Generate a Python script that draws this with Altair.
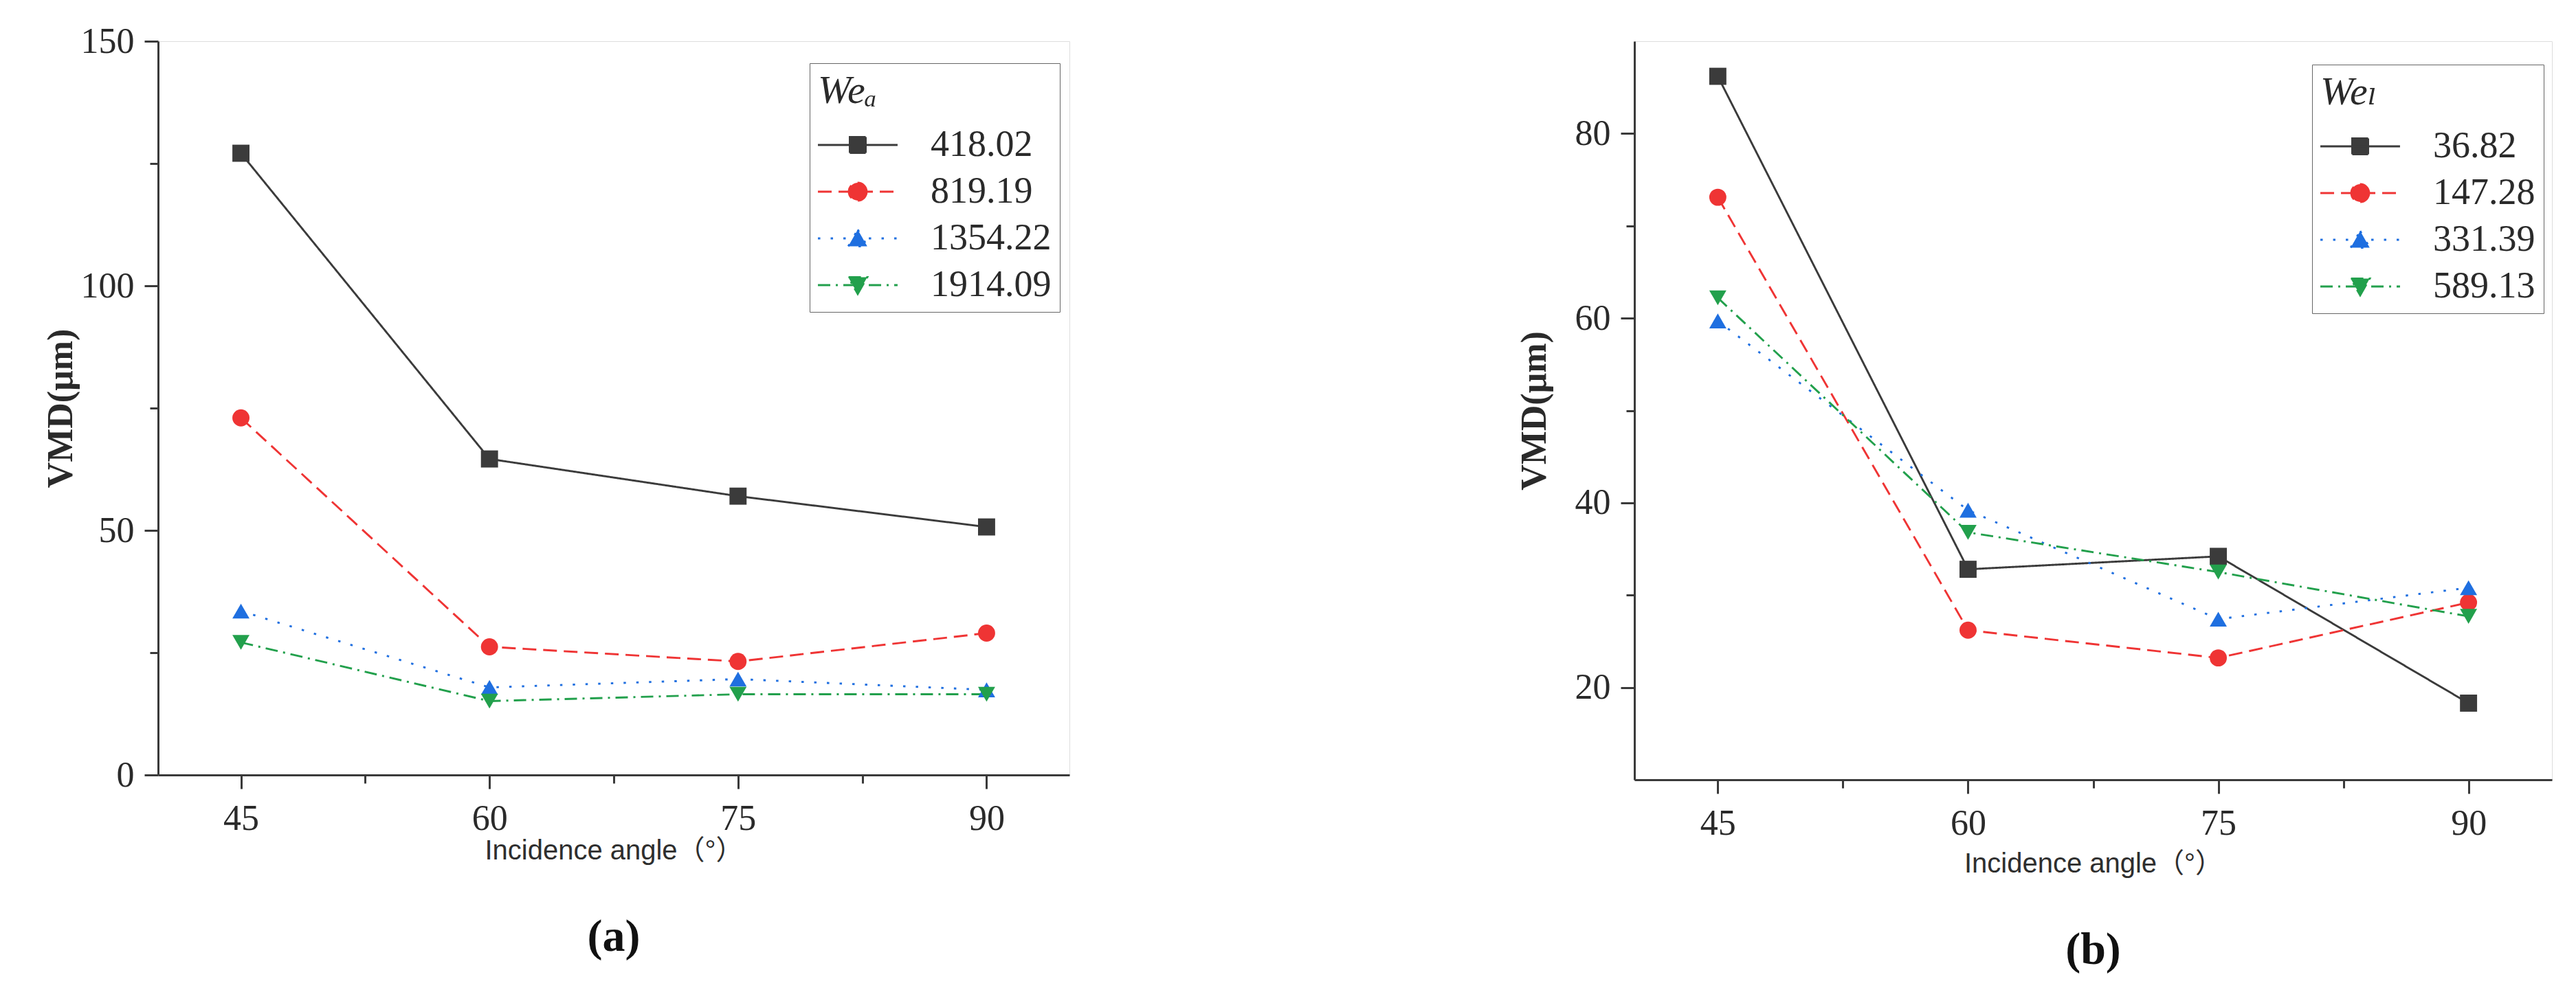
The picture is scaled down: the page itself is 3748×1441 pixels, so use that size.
import altair as alt
import pandas as pd

# ---------------- data ----------------
angles = [45, 60, 75, 90]

# Panel (a): We_a series
a_names = ["418.02", "819.19", "1354.22", "1914.09"]
a_418_02 = [127.1, 64.6, 57.0, 50.7]
a_819_19 = [73.0, 26.2, 23.2, 29.0]
a_1354_22 = [33.5, 17.9, 19.6, 17.4]
a_1914_09 = [27.1, 15.1, 16.5, 16.5]

# Panel (b): We_l series
b_names = ["36.82", "147.28", "331.39", "589.13"]
b_36_82 = [86.2, 32.8, 34.2, 18.3]
b_147_28 = [73.1, 26.2, 23.2, 29.2]
b_331_39 = [59.7, 39.2, 27.4, 30.8]
b_589_13 = [62.2, 36.8, 32.5, 27.7]

x_ticks = [45, 60, 75, 90]
x_minor = [52.5, 67.5, 82.5]
a_yticks = [0, 50, 100, 150]
a_yminor = [25, 75, 125]
b_yticks = [20, 40, 60, 80]
b_yminor = [30, 50, 70]

# ---------------- styles ----------------
colors = ["#3b3b3b", "#ef3434", "#1f6fe0", "#22a04c"]
dashes = [[1, 0], [20, 10], [3.5, 15], [18, 8, 3, 8]]
point_shapes = ["square", "circle", "triangle-up", "triangle-down"]
LINE = "M-2.52,0H2.52"
legend_shapes = [
    LINE + "M-0.5,-0.5H0.5V0.5H-0.5Z",
    LINE + "M0.56,0A0.56,0.56 0 1,1 -0.56,0A0.56,0.56 0 1,1 0.56,0Z",
    LINE + "M0,-0.55L0.6,0.5H-0.6Z",
    LINE + "M0,0.55L0.6,-0.5H-0.6Z",
]

SERIF = "Liberation Serif, DejaVu Serif, Noto Sans, DejaVu Sans"
SANS = "Liberation Sans, Noto Sans CJK SC, sans-serif"
INK = "#2a2a2a"
FRAME = "#3a3a3a"


def long_frame(names, series):
    rows = []
    for name, vals in zip(names, series):
        for ang, v in zip(angles, vals):
            rows.append({"angle": ang, "vmd": v, "series": name})
    return pd.DataFrame(rows)


def panel(df, names, legend_title, ydomain, yticks, yminor, width, height,
          lx, ly, ytitle_x, xtitle_y, label):
    xscale = alt.Scale(domain=[40, 95], nice=False, zero=False)
    yscale = alt.Scale(domain=ydomain, nice=False, zero=False)

    main_x = alt.Axis(values=x_ticks, title="Incidence angle（°）", grid=False,
                      labelFlush=False, tickSize=20, tickWidth=3, tickColor=FRAME,
                      domainColor=FRAME, domainWidth=3, labelFont=SERIF,
                      labelFontSize=52, labelColor=INK, labelPadding=18,
                      titleFont=SANS, titleFontSize=40, titleFontWeight="normal",
                      titleColor="#2e2e2e", titleX=width / 2, titleY=xtitle_y,
                      titleBaseline="middle", titleAlign="center", orient="bottom")
    main_y = alt.Axis(values=yticks, title="VMD(μm)", grid=False, labelFlush=False,
                      tickSize=20, tickWidth=3, tickColor=FRAME, domainColor=FRAME,
                      domainWidth=3, labelFont=SERIF, labelFontSize=52,
                      labelColor=INK, labelPadding=15, titleFont=SERIF,
                      titleFontSize=52, titleFontWeight="bold", titleColor=INK,
                      titleX=ytitle_x, titleY=height / 2, titleAngle=270,
                      titleBaseline="middle", titleAlign="center", orient="left")
    minor_x = alt.Axis(values=x_minor, title=None, labels=False, domain=False,
                       grid=False, tickSize=12, tickWidth=3, tickColor=FRAME,
                       orient="bottom")
    minor_y = alt.Axis(values=yminor, title=None, labels=False, domain=False,
                       grid=False, tickSize=12, tickWidth=3, tickColor=FRAME,
                       orient="left")

    base = alt.Chart(df)
    lines = base.mark_line(strokeWidth=2.9).encode(
        x=alt.X("angle:Q", scale=xscale, axis=main_x),
        y=alt.Y("vmd:Q", scale=yscale, axis=main_y),
        color=alt.Color("series:N", scale=alt.Scale(domain=names, range=colors), legend=None),
        strokeDash=alt.StrokeDash("series:N", scale=alt.Scale(domain=names, range=dashes), legend=None),
    )
    points = base.mark_point(filled=True, size=620, opacity=1).encode(
        x=alt.X("angle:Q", scale=xscale, axis=None),
        y=alt.Y("vmd:Q", scale=yscale, axis=None),
        color=alt.Color("series:N", scale=alt.Scale(domain=names, range=colors), legend=None),
        shape=alt.Shape("series:N", scale=alt.Scale(domain=names, range=point_shapes), legend=None),
    )
    leg = alt.Legend(title=legend_title, orient="none", legendX=lx, legendY=ly,
                     strokeColor="#666666", padding=12, titleFont=SERIF,
                     titleFontSize=58, titleFontStyle="italic", titleFontWeight="normal",
                     titleColor=INK, titlePadding=22, labelFont=SERIF, labelFontSize=54,
                     labelColor=INK, labelLimit=600, labelOffset=79, symbolOffset=31,
                     symbolSize=2116, symbolStrokeWidth=3, rowPadding=14)
    legend_layer = base.transform_filter("false").mark_point(
        filled=True, opacity=1, strokeWidth=3, size=2116).encode(
        x=alt.X("angle:Q", scale=xscale, axis=minor_x),
        y=alt.Y("vmd:Q", scale=yscale, axis=minor_y),
        fill=alt.Fill("series:N", scale=alt.Scale(domain=names, range=colors), legend=leg),
        stroke=alt.Stroke("series:N", scale=alt.Scale(domain=names, range=colors), legend=leg),
        shape=alt.Shape("series:N", scale=alt.Scale(domain=names, range=legend_shapes), legend=leg),
        strokeDash=alt.StrokeDash("series:N", scale=alt.Scale(domain=names, range=dashes), legend=leg),
    )
    return alt.layer(lines, points, legend_layer).resolve_scale(
        color="independent", shape="independent", strokeDash="independent",
        fill="independent", stroke="independent",
    ).resolve_axis(x="independent", y="independent").properties(
        width=width, height=height,
        title=alt.TitleParams(text=label, orient="bottom", anchor="middle", font=SERIF,
                              fontSize=66, fontWeight="bold", color="#111111", offset=74),
    )


df_a = long_frame(a_names, [a_418_02, a_819_19, a_1354_22, a_1914_09])
df_b = long_frame(b_names, [b_36_82, b_147_28, b_331_39, b_589_13])

pa = panel(df_a, a_names, "Weₐ", [0, 150], a_yticks, a_yminor, 1326, 1068,
           948, 32, -142, 110, "(a)")
pb = panel(df_b, b_names, "Weₗ", [10, 90], b_yticks, b_yminor, 1335, 1075,
           986, 34, -146, 122, "(b)")

chart = alt.hconcat(pa, pb, spacing=822, bounds="flush").properties(
    padding={"left": 53, "top": 25, "right": 5, "bottom": 5}
).configure_view(stroke=FRAME, strokeWidth=3).configure(background="white")

chart.save("out.html", embed_options={"renderer": "svg", "actions": False})
